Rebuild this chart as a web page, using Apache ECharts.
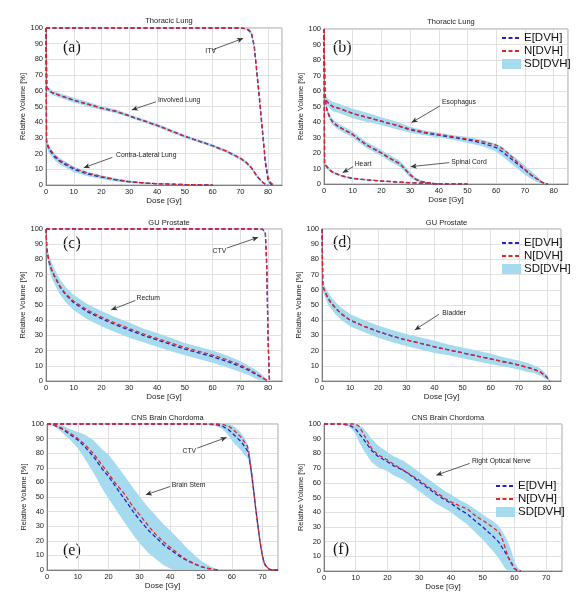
<!DOCTYPE html>
<html><head><meta charset="utf-8">
<script src="https://cdn.jsdelivr.net/npm/echarts@6/dist/echarts.min.js"></script>
<style>html,body{margin:0;padding:0;background:#fff}#c{width:586px;height:600px}</style>
</head><body><div id="c"></div>
<script>
// ---------------- DATA ----------------
const xTicks = [0,10,20,30,40,50,60,70,80];
const yTicks = [0,10,20,30,40,50,60,70,80,90,100];
const panelTitles = ['Thoracic Lung','Thoracic Lung','GU Prostate','GU Prostate','CNS Brain Chordoma','CNS Brain Chordoma'];
const panelLetters = ['(a)','(b)','(c)','(d)','(e)','(f)'];
const xMax = [85,85,85,85,75,75];

// (a) Thoracic Lung
const itvDose = [0,70,72,73,74,75,76,77,78,79,80,81,82];
const itvE    = [100,100,99.5,98.5,96.5,88,70,52,33,14,3,0.5,0];
const itvN    = [100,100,99.7,99,97,89,72,54,35,16,5,1.5,0];
const itvSD   = [0,0,0.5,1,1.5,2,2,2,2,2,1.5,0.5,0];

const invDose = [0,0.3,2,5,10,15,20,25,30,35,40,45,50,55,60,65,70,72,74,76,78,79,80];
const invE    = [100,62,59,57,54,51.5,49,47,44,41,38,34.5,31,28,25,21.5,17,14.5,11,5.5,1.8,0.5,0];
const invN    = [100,62,59,57,54,51.5,49,47,44,41,38,34.5,31,28,25,21.5,17,14.5,11,5.5,1.8,0.5,0];
const invSD   = [0,1.5,1.5,1.5,1.5,1.5,1.2,1.2,1,1,1,1,1,1,1,1,1,1,1,1,0.8,0.5,0];

const conDose = [0,0.2,1,3,5,10,15,20,25,30,35,40,50,60];
const conE    = [100,27,23,18,15,10,7,5,3.3,2,1.3,0.8,0.3,0];
const conN    = [100,28,24,19,15.8,10.8,7.6,5.4,3.6,2.2,1.4,0.8,0.3,0];
const conSD   = [0,3,2.5,2,2,1.8,1.5,1.2,1,0.8,0.5,0.3,0.1,0];

// (b) Thoracic Lung
const esoDose = [0,0.3,1,3,5,10,15,20,25,30,35,40,45,50,55,60,62,64,66,68,70,72,74,76,77,78];
const esoE    = [100,57,53,50,49,45.5,43,40.5,38,35,33,31.5,30,28.5,26.5,23.5,21,18,15,12,9,6,3.5,1,0.3,0];
const esoN    = [100,57,53,50,49,45.5,43,40.5,38,35.5,33.5,32,30.5,29,27.5,25,23,20,16.5,13,9.5,6,3.5,1,0.3,0];
const esoSD   = [0,2,2.5,3,3,3,3,2.5,2.5,2,1.5,1.5,1.5,2,2,2.5,3,3,3,3,3,2.5,2,1,0.5,0];

const scDose = [0,0.3,1,2,3,5,7,10,12,15,18,20,23,25,26,27,28,29,30,31,32,34,36,38,40];
const scE    = [100,55,48,43,40,37,35,32,29,25,22,20,16.5,14.5,13.5,12,10,8,6,4.5,3,1.5,0.8,0.3,0];
const scN    = [100,55,48,43,40,37,35,32,29,25,22,20,16.5,14.5,13.5,12,10,8,6,4.5,3,1.5,0.8,0.3,0];
const scSD   = [0,2,2,2,2,2,2,2,2,2,2,2,2,2,2,2,2,2,1.8,1.5,1.2,0.8,0.5,0.2,0];

const hrtDose = [0,0.2,1,2,3,5,7,10,15,20,25,30,35,40,50];
const hrtE    = [100,13,11,9,7.5,6,4.8,3.5,2.6,1.9,1.3,0.8,0.5,0.2,0];
const hrtN    = [100,13.5,11.3,9.3,7.8,6.2,5,3.7,2.7,2,1.4,0.9,0.5,0.2,0];
const hrtSD   = [0,1,1,0.8,0.7,0.6,0.5,0.5,0.4,0.3,0.2,0.2,0.1,0,0];

// (c) GU Prostate
const ctvcDose = [0,77,78,79,79.5,80,80.5];
const ctvcE    = [100,100,99.8,97,75,25,0];
const ctvcN    = [100,100,99.9,98,78,28,0];
const ctvcSD   = [0,0,0.5,1,2,1,0];

const recDose = [0,0.3,1,2,3,5,7,10,15,20,25,30,35,40,45,50,55,60,65,70,73,75,77,78,79,80];
const recE    = [100,87,79,73,69,62,57,51.5,45.5,41,37,33.5,30,27,24,21,18.5,16,13,9.5,7,5,3,2,1,0];
const recN    = [100,87,79.5,73.5,69.5,62.5,57.5,52.5,46.5,42,38,34.5,31,28,25,22,19.5,17,14,10.5,7.8,5.6,3.4,2.2,1.1,0];
const recSD   = [0,3,4,5,5,5,5,5,5,5,5,5,4.5,4.5,4.5,4,4,4,4,3.5,3,3,2.5,2,1,0];

// (d) GU Prostate
const bldDose = [0,0.3,1,2,3,5,7,10,15,20,25,30,35,40,45,50,55,60,65,70,73,75,77,78,79,80,80.5,81];
const bldE    = [100,62,59,55,52,47.5,44,40,36,32.5,29.5,27,24.8,22.5,20.5,18.5,16.5,14.5,12.5,10.5,9,8,6.5,5.5,4,2.5,1,0];
const bldN    = [100,62,59,55,52,47.5,44,40,36,32.5,29.5,27,24.8,22.5,20.5,18.5,16.5,14.5,12.5,10.5,9,8,6.5,5.5,4,2.5,1,0];
const bldSD   = [0,3,3.5,4,4,4,4,4,4,4,4,4,4,4,3.5,3.5,3.5,3.5,3,3,3,2.5,2.5,2,2,1.5,1,0];

// (e) CNS Brain Chordoma
const ctveDose = [0,50,55,57,59,60,61,62,63,64,65,65.5,66,66.5,67,67.5,68,68.5,69,69.5,70,70.5,71,72,73,75];
const ctveE    = [100,100,99.5,98.5,96,94,92,90,88,85,82,79,72,65,56,47,38,30,22,15,9,5,3,0.8,0,0];
const ctveN    = [100,100,100,99.7,98.5,97,95,93,91,88,85,81,73,65,56,47,38,30,22,15,9,5,3,0.8,0,0];
const ctveSD   = [0,0,1,2,4,5,6,6,6,6,5,5,5,5,5,4,4,4,3,3,2,2,1,0.5,0,0];

const bsDose = [0,2,5,8,10,12,15,18,20,22,25,28,30,33,35,38,40,43,45,48,50,52,54,56];
const bsE    = [100,99.5,96.5,92,89,85,78,69,64,58,49,40,34.5,27,23,17,14,9.5,7,4,2.3,1.2,0.5,0];
const bsN    = [100,99.7,97,93,90,86.5,80,71.5,66,60,52.5,43,38,30,25,19,15.5,10.5,7.5,4.2,2.3,1.2,0.5,0];
const bsSD   = [0,0.5,2.5,4,5.5,8,11,13.5,15,15.5,16,16,16,15.5,15,14,13,11,9,6,4,2.5,1,0];

// (f) CNS Brain Chordoma
const ronDose = [0,5,7,8,9,10,11,12,13,15,17,20,22,25,28,30,33,35,38,40,43,45,48,50,52,53,55,56,57,58,59,60,61,62];
const ronE    = [100,100,99.5,99,98,96.5,93.5,91,88,82,78,74.3,71.5,68.5,64,60.7,56,52.7,48.5,46,41.5,39,33.5,30,26,24.3,19.8,16.5,13,9.5,6,1.6,0.3,0];
const ronN    = [100,100,100,100,100,100,98.5,95,91,83.4,79,75.5,72.5,68.6,64.5,61.8,57,54,49.5,47,44,42.5,37,34.5,31.5,30,26.6,23,16.4,9.5,5,1.6,0.3,0];
const ronSD   = [0,0,0.5,1,2,3.5,5.5,7,7.5,8,7.5,6.5,6.5,6.5,6.5,6.5,6.5,6.5,6,6,6.5,7,8,8.5,9.5,10,11,11,11,10,8,5,2,0];

const curves = [
  {g:0, d:itvDose, e:itvE, n:itvN, sd:itvSD},
  {g:0, d:invDose, e:invE, n:invN, sd:invSD},
  {g:0, d:conDose, e:conE, n:conN, sd:conSD},
  {g:1, d:esoDose, e:esoE, n:esoN, sd:esoSD},
  {g:1, d:scDose,  e:scE,  n:scN,  sd:scSD},
  {g:1, d:hrtDose, e:hrtE, n:hrtN, sd:hrtSD},
  {g:2, d:ctvcDose, e:ctvcE, n:ctvcN, sd:ctvcSD},
  {g:2, d:recDose, e:recE, n:recN, sd:recSD},
  {g:3, d:bldDose, e:bldE, n:bldN, sd:bldSD},
  {g:4, d:ctveDose, e:ctveE, n:ctveN, sd:ctveSD},
  {g:4, d:bsDose,  e:bsE,  n:bsN,  sd:bsSD},
  {g:5, d:ronDose, e:ronE, n:ronN, sd:ronSD}
];

// annotations (data coords): label position, arrow start, arrow end
const notes = [
  {g:0, t:'ITV', at:[57.4,85.5], a:[59.8,86], b:[71,93.4]},
  {g:0, t:'Involved Lung', at:[40.3,54], a:[39.6,53], b:[30.9,47.8]},
  {g:0, t:'Contra-Lateral Lung', at:[25.2,19.1], a:[23.9,17.6], b:[13.6,11]},
  {g:1, t:'Esophagus', at:[41.1,52.6], a:[40.4,50.4], b:[30.5,39.6]},
  {g:1, t:'Spinal Cord', at:[44.3,14], a:[43.7,13.8], b:[30.2,11.2]},
  {g:1, t:'Heart', at:[10.7,12.8], a:[10.2,11.2], b:[6.5,7.3]},
  {g:2, t:'CTV', at:[60,85.5], a:[65.2,87.5], b:[76.4,94.5]},
  {g:2, t:'Rectum', at:[32.6,54.3], a:[32.2,53], b:[23.5,46.8]},
  {g:3, t:'Bladder', at:[42.8,44.5], a:[41.6,43.9], b:[33,33.6]},
  {g:4, t:'CTV', at:[44,81.2], a:[48.8,83.5], b:[58.3,90.8]},
  {g:4, t:'Brain Stem', at:[40.5,58.3], a:[40,57.2], b:[32.1,51.5]},
  {g:5, t:'Right Optical Nerve', at:[46.6,74.8], a:[45.9,73.2], b:[35.4,65.2]}
];

// ---------------- LAYOUT / STYLE ----------------
const BLUE = '#2222c8', RED = '#e3262b', BAND = '#a6dbef';
const grids = [
  {left:46, top:28, width:236, height:157},
  {left:324, top:29, width:244, height:155},
  {left:46, top:229, width:236, height:152},
  {left:322, top:229, width:239, height:152},
  {left:47, top:424, width:231, height:146},
  {left:324, top:424, width:238, height:147}
];
const titleTops = [12, 13, 214, 214, 409, 409];
const letterPos = [[63,40],[333,40],[63,236],[333,235],[63,543],[333,542]];
const legendPos = [null,{left:501,top:32},null,{left:501,top:237},null,{left:495,top:480}];
const FONT = 'Arial, "Liberation Sans", sans-serif';

const option = {
  animation:false,
  backgroundColor:'#fff',
  title: panelTitles.map((t,i)=>({text:t, left:grids[i].left+grids[i].width/2, top:titleTops[i], textAlign:'center',
    textStyle:{fontSize:7.5, fontWeight:'normal', color:'#222', fontFamily:FONT}})),
  grid: grids.map(g=>Object.assign({show:true, borderColor:'#8a8a8a', borderWidth:0.8, backgroundColor:'transparent'}, g)),
  xAxis: grids.map((g,i)=>({type:'value', gridIndex:i, min:0, max:xMax[i], interval:10,
    name:'Dose [Gy]', nameLocation:'middle', nameGap:12,
    nameTextStyle:{fontSize:8, color:'#222', fontFamily:FONT},
    axisLine:{show:true, lineStyle:{color:'#666', width:0.8}}, axisTick:{show:false},
    axisLabel:{fontSize:7.5, color:'#222', margin:3, fontFamily:FONT, formatter:v=>xTicks.indexOf(v)>=0?String(v):''},
    splitLine:{show:true, lineStyle:{color:'#d9d9d9', width:0.8}}})),
  yAxis: grids.map((g,i)=>({type:'value', gridIndex:i, min:0, max:100, interval:10,
    name:'Relative Volume [%]', nameLocation:'middle', nameGap:15,
    nameTextStyle:{fontSize:7.5, color:'#222', fontFamily:FONT},
    axisLine:{show:true, lineStyle:{color:'#666', width:0.8}}, axisTick:{show:false},
    axisLabel:{fontSize:7.5, color:'#222', margin:3, fontFamily:FONT, formatter:v=>yTicks.indexOf(v)>=0?String(v):''},
    splitLine:{show:true, lineStyle:{color:'#d9d9d9', width:0.8}}})),
  legend: legendPos.map((p,i)=>p?({orient:'vertical', left:p.left, top:p.top, padding:0, itemWidth:19, itemHeight:10, itemGap:1,
    selectedMode:false, textStyle:{fontSize:11.5, color:'#111', fontFamily:FONT, padding:[0,0,0,-2]},
    data:[{name:'E[DVH]', itemStyle:{opacity:0}},{name:'N[DVH]', itemStyle:{opacity:0}},{name:'SD[DVH]', icon:'rect'}]}):null).filter(x=>x),
  graphic: panelLetters.map((t,i)=>({type:'text', left:letterPos[i][0], top:letterPos[i][1],
    style:{text:t, fontSize:16, fontFamily:'"Liberation Serif", "Times New Roman", serif', fill:'#111'}})),
  series: []
};

// bands
curves.forEach(c=>{
  option.series.push({
    type:'custom', name:'SD[DVH]', xAxisIndex:c.g, yAxisIndex:c.g, data:[[0,0]], z:1, silent:true,
    itemStyle:{color:BAND},
    renderItem:function(params, api){
      const pts=[];
      for(let i=0;i<c.d.length;i++) pts.push(api.coord([c.d[i], Math.min(100, c.e[i]+c.sd[i])]));
      for(let i=c.d.length-1;i>=0;i--) pts.push(api.coord([c.d[i], Math.max(0, c.e[i]-c.sd[i])]));
      return {type:'polygon', shape:{points:pts}, style:{fill:BAND}};
    }
  });
});
// E and N lines
function lineS(name, g, d, v, color, z){
  return {type:'line', name:name, xAxisIndex:g, yAxisIndex:g, data:d.map((x,i)=>[x,v[i]]),
    symbol:'none', showSymbol:false, clip:false, z:z,
    lineStyle:{color:color, width:1.3, type:[4,2.5]}, itemStyle:{color:color}};
}
curves.forEach(c=>option.series.push(lineS('E[DVH]', c.g, c.d, c.e, BLUE, 3)));
curves.forEach(c=>option.series.push(lineS('N[DVH]', c.g, c.d, c.n, RED, 4)));

// annotations: arrows + labels in data coordinates
for(let g=0; g<6; g++){
  const ns = notes.filter(n=>n.g===g);
  option.series.push({
    type:'line', name:'notes'+g, xAxisIndex:g, yAxisIndex:g, data:[], z:6, silent:true,
    markLine:{silent:true, symbol:['none','arrow'], symbolSize:[4,6], animation:false,
      lineStyle:{color:'#333', width:0.8, type:'solid'}, label:{show:false},
      data: ns.map(n=>[{coord:n.a},{coord:n.b}])},
    markPoint:{silent:true, symbol:'circle', symbolSize:0, animation:false,
      data: ns.map(n=>({coord:n.at, label:{show:true, position:'right', distance:0, formatter:n.t,
        fontSize:6.8, color:'#222', fontFamily:FONT}}))}
  });
}

const chart = echarts.init(document.getElementById('c'), null, {renderer:'canvas'});
chart.setOption(option);
</script>
</body></html>
